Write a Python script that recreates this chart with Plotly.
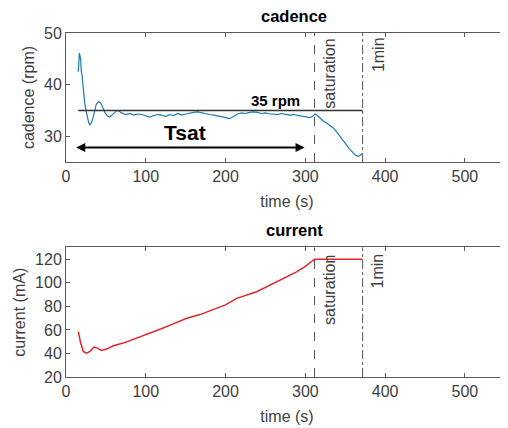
import plotly.graph_objects as go

# ---- data ----
cad_t = [15.4, 16.2, 16.8, 17.5, 18.4, 19.2, 20.0, 20.9, 22.0, 23.5, 25.0, 26.7, 28.5, 30.0, 32.0, 34.2,
         36.0, 38.0, 41.0, 43.0, 45.0, 47.0, 49.0, 52.0, 54.5, 57.0, 60.0, 63.0, 65.0, 67.0,
         70, 75, 80, 85, 90, 95, 100, 105, 110, 115, 120, 125, 130, 135, 140, 145, 150, 155, 160, 165,
         170, 175, 180, 185, 190, 195, 200, 205, 210, 215, 220, 225, 230, 235, 240, 245, 250, 255, 260,
         265, 270, 275, 280, 285, 290, 295, 300, 305, 309, 312, 315, 318, 322, 327, 331, 335, 339, 343,
         347, 351, 355, 359, 363, 366, 369, 371]
cad_v = [42.5, 45.2, 46.1, 45.6, 44.8, 42.5, 42.0, 40.5, 38.5, 36.4, 35.0, 33.8, 32.6, 32.2, 32.6, 33.8,
         35.2, 36.2, 36.7, 36.5, 36.0, 35.2, 34.5, 33.9, 33.7, 34.0, 34.5, 34.9, 35.0, 34.8,
         34.5, 34.2, 34.4, 34.1, 34.3, 34.2, 34.0, 33.7, 34.0, 34.2, 34.1, 33.8, 34.2, 34.0, 34.4, 34.1,
         34.3, 34.5, 34.6, 34.7, 34.5, 34.4, 34.2, 34.1, 34.0, 33.8, 33.6, 33.4, 33.8, 34.3, 34.5, 34.4,
         34.6, 34.7, 34.6, 34.4, 34.5, 34.3, 34.3, 34.2, 34.4, 34.2, 34.1, 34.2, 34.0, 33.9, 33.8, 33.6,
         33.8, 34.3, 34.0, 33.5, 33.0, 32.5, 32.1, 31.6, 30.9, 30.0, 29.2, 28.4, 27.6, 26.9, 26.3, 26.1,
         26.3, 26.6]

cur_t = [15.4, 18.4, 21.7, 25.9, 30.0, 35.0, 39.2, 44.7, 51.0, 59.3, 71.8, 88.6, 101.0, 117.8, 134.5,
         151.2, 168.0, 184.6, 199.0, 207.0, 214.0, 239.0, 264.0, 289.0, 300.0, 310.0, 311.5, 371.8]
cur_v = [58.6, 48.8, 41.7, 40.3, 41.7, 45.4, 44.5, 42.5, 43.7, 46.5, 48.8, 53.0, 55.8, 60.6, 65.1,
         69.9, 73.0, 77.2, 81.0, 84.0, 86.8, 92.4, 100.9, 109.3, 114.0, 119.8, 120.0, 120.0]

t_sat = 311.5
t_1min = 371.8
ref_rpm = 35
x_range = [0, 554]
cad_range = [25, 50]
cad_ticks = [30, 40, 50]
cur_range = [20, 130]
cur_ticks = [20, 40, 60, 80, 100, 120]
x_ticks = [0, 100, 200, 300, 400, 500]

FONT = "Arial, Liberation Sans, sans-serif"
AX = "#595959"
TXT = "#404040"
FS = 16

fig = go.Figure()
fig.add_trace(go.Scatter(x=cad_t, y=cad_v, mode="lines", line=dict(color="#1f77b4", width=1.2),
                         xaxis="x", yaxis="y", showlegend=False))
fig.add_trace(go.Scatter(x=cur_t, y=cur_v, mode="lines", line=dict(color="#e0262b", width=1.5),
                         xaxis="x2", yaxis="y2", showlegend=False))

def xax(anchor):
    return dict(range=x_range, tickvals=x_ticks, ticks="inside", ticklen=4, tickcolor=AX,
                showline=True, linecolor=AX, linewidth=1, mirror="ticks", showgrid=False,
                zeroline=False, tickfont=dict(family=FONT, size=FS, color=TXT), automargin=False,
                title=dict(text="time (s)", font=dict(family=FONT, size=FS, color=TXT), standoff=11),
                anchor=anchor)

def yax(rng, ticks, title, domain, anchor):
    return dict(range=rng, tickvals=ticks, ticks="inside", ticklen=4, tickcolor=AX,
                showline=True, linecolor=AX, linewidth=1, mirror=False, showgrid=False,
                zeroline=False, tickfont=dict(family=FONT, size=FS, color=TXT), automargin=False,
                title=dict(text=title, font=dict(family=FONT, size=FS, color=TXT), standoff=5),
                domain=domain, anchor=anchor)

# the page body has an 8px margin, so the figure is 8px smaller and offset
fig.update_layout(
    width=500, height=420,
    margin=dict(l=58, r=0, t=25, b=51, autoexpand=False),
    paper_bgcolor="white", plot_bgcolor="white",
    xaxis=xax("y"),
    yaxis=yax(cad_range, cad_ticks, "cadence (rpm)", [0.625, 1.0], "x"),
    xaxis2=xax("y2"),
    yaxis2=yax(cur_range, cur_ticks, "current (mA)", [0.0, 0.3765], "x2"),
    yaxis3=dict(range=cad_range, tickvals=cad_ticks, overlaying="y", side="right", anchor="x",
                ticks="inside", ticklen=3, tickcolor=AX, showline=False, showticklabels=False,
                showgrid=False, zeroline=False, automargin=False),
    yaxis4=dict(range=cur_range, tickvals=cur_ticks, overlaying="y2", side="right", anchor="x2",
                ticks="inside", ticklen=3, tickcolor=AX, showline=False, showticklabels=False,
                showgrid=False, zeroline=False, automargin=False),
)
fig.add_trace(go.Scatter(x=[None], y=[None], xaxis="x", yaxis="y3", showlegend=False, hoverinfo="skip"))
fig.add_trace(go.Scatter(x=[None], y=[None], xaxis="x2", yaxis="y4", showlegend=False, hoverinfo="skip"))

shapes = []
for xr, yr in [("x", "y"), ("x2", "y2")]:
    shapes.append(dict(type="line", xref=xr, yref=yr + " domain", x0=t_sat, x1=t_sat, y0=0, y1=1,
                       line=dict(color="#555555", width=1, dash="dash")))
    shapes.append(dict(type="line", xref=xr, yref=yr + " domain", x0=t_1min, x1=t_1min, y0=0, y1=1,
                       line=dict(color="#555555", width=1, dash="dashdot")))
shapes.append(dict(type="line", xref="x", yref="y", x0=cad_t[0], x1=t_1min, y0=ref_rpm, y1=ref_rpm,
                   line=dict(color="#333333", width=1.5)))
fig.update_layout(shapes=shapes)

ann = []
ann.append(dict(text="<b>cadence</b>", xref="paper", yref="paper", x=0.516, y=1.0, yshift=17,
                yanchor="middle", showarrow=False, font=dict(family=FONT, size=16.5, color="black")))
ann.append(dict(text="<b>current</b>", xref="paper", yref="paper", x=0.516, y=0.3765, yshift=17,
                yanchor="middle", showarrow=False, font=dict(family=FONT, size=16.5, color="black")))
ann.append(dict(text="<b>35 rpm</b>", xref="x", yref="y", x=263, y=37.0, showarrow=False,
                font=dict(family=FONT, size=15, color="black")))
ann.append(dict(text="<b>Tsat</b>", xref="x", yref="y", x=149, y=30.65, showarrow=False,
                font=dict(family=FONT, size=21, color="black")))
ann.append(dict(text="", xref="x", yref="y", x=299, y=27.8, ax=11, ay=27.8, axref="x", ayref="y",
                showarrow=True, arrowhead=2, arrowside="end+start", arrowsize=0.9, arrowwidth=2,
                arrowcolor="black"))
for xr, yr, ys, ym in [("x", "y", 42.1, 45.9), ("x2", "y2", 93.9, 110.4)]:
    ann.append(dict(text="saturation", xref=xr, yref=yr, x=330.8, y=ys, textangle=-90, showarrow=False,
                    font=dict(family=FONT, size=16, color=TXT)))
    ann.append(dict(text="1min", xref=xr, yref=yr, x=391, y=ym, textangle=-90, showarrow=False,
                    font=dict(family=FONT, size=16, color=TXT)))
fig.update_layout(annotations=ann)

fig.write_html("out.html")
